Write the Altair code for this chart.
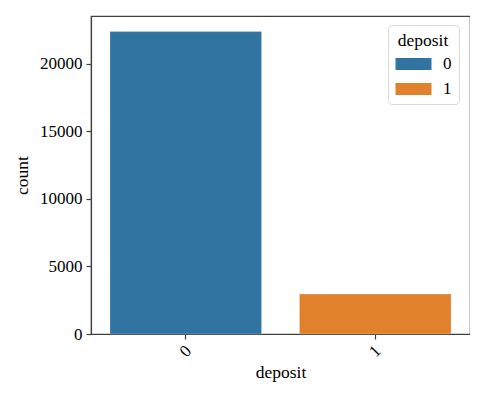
import altair as alt
import pandas as pd

categories = ["0", "1"]
counts = [22370, 2950]
colors = ["#3274a1", "#e1812c"]
y_ticks = [0, 5000, 10000, 15000, 20000]

df = pd.DataFrame({"deposit": categories, "count": counts})

FONT = "Liberation Serif"

bars = alt.Chart(df).mark_bar(stroke="white", strokeWidth=0.6, strokeOpacity=0.4).encode(
    x=alt.X("deposit:N", sort=categories,
            scale=alt.Scale(paddingInner=0.2, paddingOuter=0.1),
            axis=alt.Axis(title="deposit", labelAngle=-45, labelAlign="center",
                          labelBaseline="middle", labelPadding=12, tickSize=5,
                          titlePadding=4)),
    y=alt.Y("count:Q", scale=alt.Scale(domain=[0, 23520], nice=False),
            axis=alt.Axis(title="count", values=y_ticks, format="d", tickSize=5, labelPadding=4,
                          grid=False, titlePadding=8)),
    color=alt.Color("deposit:N", scale=alt.Scale(domain=categories, range=colors),
                    legend=alt.Legend(title="deposit", orient="none", legendX=297, legendY=9,
                                      symbolType="M-3,-1L3,-1L3,1L-3,1Z",
                                      symbolSize=144, symbolStrokeWidth=0, symbolOffset=10,
                                      strokeColor="#d9d9d9", cornerRadius=4, padding=7,
                                      fillColor="white", titleAlign="center", titleAnchor="middle",
                                      labelOffset=21, rowPadding=7, titlePadding=6)),
)

chart = bars.properties(
    width=379, height=318,
    autosize=alt.AutoSizeParams(type="none"),
    padding={"left": 83, "top": 8, "right": 0, "bottom": 50},
).configure_view(
    stroke="#404040", strokeWidth=1.2
).configure_axis(
    labelFont=FONT, titleFont=FONT, labelFontSize=17, titleFontSize=17.5,
    labelColor="black", titleColor="black", titleFontWeight="normal",
    domainColor="#404040", tickColor="#404040", domainWidth=1.2, tickWidth=1.2,
).configure_legend(
    labelFont=FONT, titleFont=FONT, labelFontSize=17, titleFontSize=17.5,
    labelColor="black", titleColor="black", titleFontWeight="normal",
)

chart.save("out.html", embed_options={"renderer": "svg", "actions": False})
